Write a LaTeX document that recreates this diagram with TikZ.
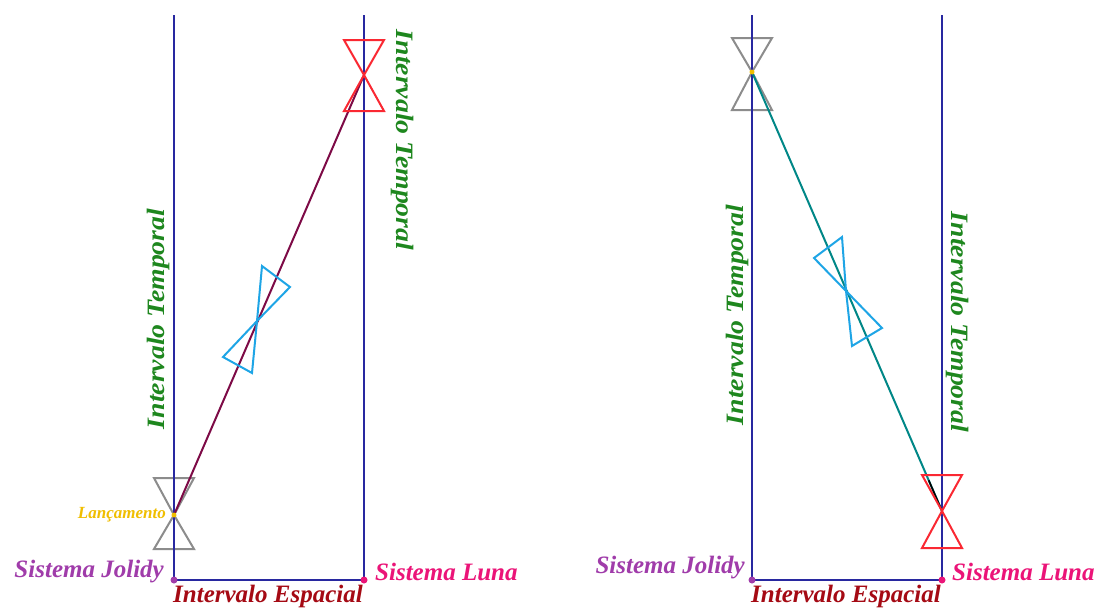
\documentclass[tikz,border=0pt]{standalone}
\usepackage{fontspec}
\usepackage{graphicx}
\usetikzlibrary{calc}
\setmainfont{Liberation Serif}
\newcommand{\stretchtxt}[1]{\scalebox{1.11}[1]{#1}}
\begin{document}
\begin{tikzpicture}[x=1pt,y=-1pt,
  axis/.style={draw=axisblue,line width=2.4pt},
  lbl/.style={font=\fontsize{25}{25}\selectfont\bfseries\itshape,inner sep=0pt},
  tempo/.style={lbl,text=tgreen},
  cone/.style={line width=2pt,line join=miter},
  dot/.style={circle,inner sep=0pt,minimum size=7pt}]
\definecolor{axisblue}{RGB}{40,40,160}
\definecolor{tgreen}{RGB}{30,135,30}
\definecolor{jpurple}{RGB}{160,60,170}
\definecolor{lpink}{RGB}{235,20,120}
\definecolor{ered}{RGB}{165,10,20}
\definecolor{maroon}{RGB}{125,10,70}
\definecolor{teal2}{RGB}{0,135,135}
\definecolor{cblue}{RGB}{30,165,230}
\definecolor{cred}{RGB}{250,40,50}
\definecolor{cgray}{RGB}{140,140,140}
\definecolor{gold}{RGB}{240,190,0}
\useasboundingbox (0,0) rectangle (1097,608);
\fill[white] (0,0) rectangle (1097,608);
% ---------------- left panel ----------------
\coordinate (LJtop) at (174,15);
\coordinate (LLtop) at (364,15);
\coordinate (LJp) at (174,580);
\coordinate (LLp) at (364,580);
\coordinate (Llaunch) at (174,515);
\coordinate (Larr) at (364,75);
\coordinate (Lmid) at (257,321);
\draw[cone,cgray] (154,478) -- (194,478) -- (Llaunch) -- cycle;
\draw[cone,cgray] (154,549) -- (194,549) -- (Llaunch) -- cycle;
\draw[axis] (LJtop) -- (LJp) -- (LLp) -- (LLtop);
\node[dot,fill=jpurple] (LJ) at (LJp) {};
\node[dot,fill=lpink] (LL) at (LLp) {};
\draw[maroon,line width=2pt] (Llaunch) -- (Larr);
\draw[cone,cred] (344,40) -- (384,40) -- (Larr) -- cycle;
\draw[cone,cred] (344,111) -- (384,111) -- (Larr) -- cycle;
\draw[cone,cblue] (262,266) -- (290,287) -- (Lmid) -- cycle;
\draw[cone,cblue] (223,357) -- (252,373) -- (Lmid) -- cycle;
\node[dot,fill=gold,minimum size=5pt] (LlaunchDot) at (Llaunch) {};
\node[text=gold,font=\fontsize{17}{17}\selectfont\itshape\bfseries,anchor=east,inner sep=0pt] (Llanc) at (166,515) {Lançamento};
\node[lbl,text=jpurple,anchor=east] (LJlbl) at (164,572) {Sistema Jolidy};
\node[lbl,text=lpink,anchor=west] (LLlbl) at (375,572) {Sistema Luna};
\node[lbl,text=ered] (LE) at (268,596) {Intervalo Espacial};
\node[tempo,rotate=90] (LT1) at (158,319) {\stretchtxt{Intervalo Temporal}};
\node[tempo,rotate=-90] (LT2) at (403,140) {\stretchtxt{Intervalo Temporal}};
% ---------------- right panel ----------------
\coordinate (RJtop) at (752,15);
\coordinate (RLtop) at (942,15);
\coordinate (RJp) at (752,580);
\coordinate (RLp) at (942,580);
\coordinate (Rlaunch) at (752,72);
\coordinate (Rarr) at (942,511);
\coordinate (Rmid) at (846,291);
\draw[cone,cgray] (732,38) -- (772,38) -- (Rlaunch) -- cycle;
\draw[cone,cgray] (732,110) -- (772,110) -- (Rlaunch) -- cycle;
\draw[axis] (RJtop) -- (RJp) -- (RLp) -- (RLtop);
\node[dot,fill=jpurple] (RJ) at (RJp) {};
\node[dot,fill=lpink] (RL) at (RLp) {};
\draw[teal2,line width=2pt] (Rlaunch) -- (Rarr);
\draw[black,line width=1.6pt] ($(Rlaunch)!0.93!(Rarr)$) -- (Rarr);
\draw[cone,cred] (922,475) -- (962,475) -- (Rarr) -- cycle;
\draw[cone,cred] (922,548) -- (962,548) -- (Rarr) -- cycle;
\draw[cone,cblue] (814,258) -- (842,237) -- (Rmid) -- cycle;
\draw[cone,cblue] (852,346) -- (882,328) -- (Rmid) -- cycle;
\node[dot,fill=gold,minimum size=5pt] (RlaunchDot) at (Rlaunch) {};
\node[lbl,text=jpurple,anchor=east] (RJlbl) at (745,568) {Sistema Jolidy};
\node[lbl,text=lpink,anchor=west] (RLlbl) at (952,572) {Sistema Luna};
\node[lbl,text=ered] (RE) at (846,596) {Intervalo Espacial};
\node[tempo,rotate=90] (RT1) at (737,315) {\stretchtxt{Intervalo Temporal}};
\node[tempo,rotate=-90] (RT2) at (957,322) {\stretchtxt{Intervalo Temporal}};
\end{tikzpicture}
\end{document}
